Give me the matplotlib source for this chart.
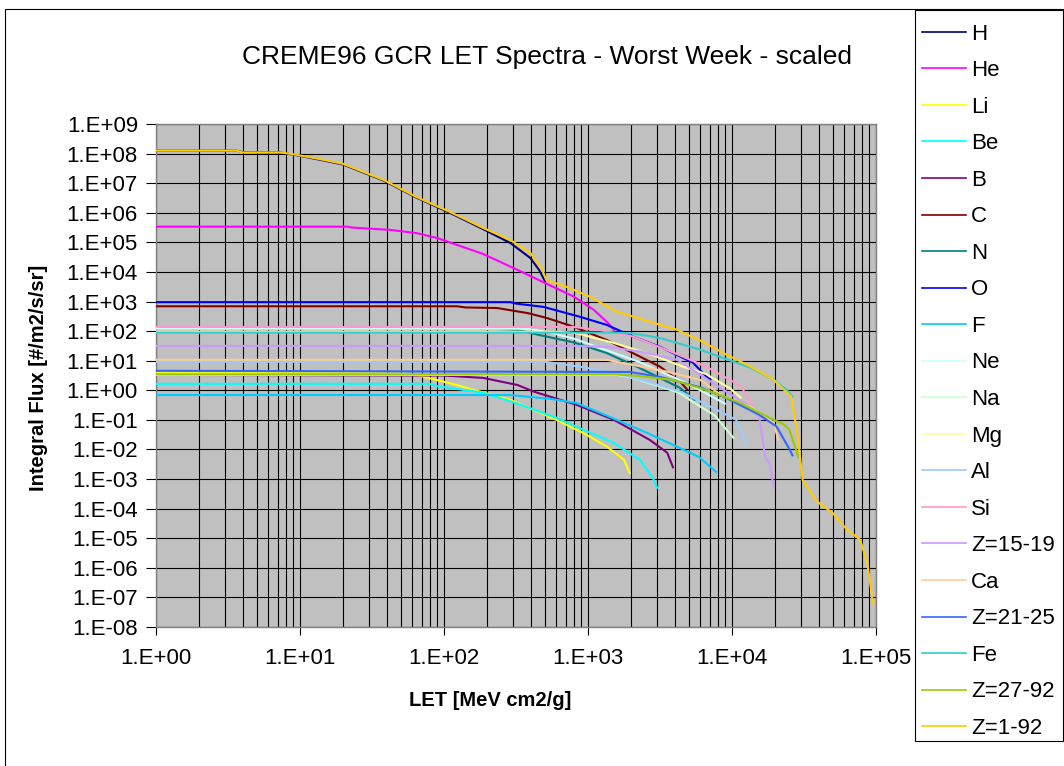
import numpy as np
import matplotlib
matplotlib.use("Agg")
from matplotlib import pyplot as plt
from matplotlib.lines import Line2D
from matplotlib.patches import Rectangle
from matplotlib.ticker import FixedLocator, FuncFormatter, LogLocator, NullLocator

plt.rcParams['font.family'] = ['Liberation Sans', 'DejaVu Sans']

W, H = 1064, 766

# legend names and the (Excel default) series colours, in drawing order
names = ["H", "He", "Li", "Be", "B", "C", "N", "O", "F", "Ne", "Na", "Mg",
         "Al", "Si", "Z=15-19", "Ca", "Z=21-25", "Fe", "Z=27-92", "Z=1-92"]
colors = ["#000080", "#FF00FF", "#FFFF00", "#00FFFF", "#800080", "#800000",
          "#008080", "#0000FF", "#00CCFF", "#CCFFFF", "#CCFFCC", "#FFFF99",
          "#99CCFF", "#FF99CC", "#CC99FF", "#FFCC99", "#3366FF", "#33CCCC",
          "#99CC00", "#FFCC00"]

# curves, as log10(LET) and log10(flux)
h_let = [0, 0.56, 0.60, 0.86, 0.95, 1.12, 1.30, 1.58, 1.81, 2.04, 2.27, 2.46, 2.60, 2.66, 2.70]
h_flux = [8.10, 8.10, 8.05, 8.04, 7.97, 7.81, 7.63, 7.09, 6.51, 6.00, 5.45, 4.98, 4.47, 4.07, 3.70]

he_let = [0, 1.33, 1.36, 1.63, 1.81, 1.95, 2.27, 2.51, 2.73, 2.90, 3.04, 3.14, 3.18]
he_flux = [5.53, 5.53, 5.50, 5.42, 5.31, 5.15, 4.61, 4.07, 3.56, 3.17, 2.72, 2.27, 2.04]

li_let = [0, 1.47, 1.74, 1.83, 2.04, 2.27, 2.46, 2.62, 2.78, 2.97, 3.13, 3.25, 3.29]
li_flux = [0.58, 0.58, 0.56, 0.49, 0.24, -0.07, -0.32, -0.66, -1.00, -1.45, -1.90, -2.35, -2.80]

be_let = [0, 1.90, 1.94, 2.27, 2.51, 2.78, 2.97, 3.18, 3.36, 3.45, 3.48]
be_flux = [0.22, 0.22, 0.15, -0.08, -0.45, -0.93, -1.34, -1.78, -2.35, -2.96, -3.30]

b_let = [0, 1.99, 2.27, 2.51, 2.62, 2.92, 3.18, 3.43, 3.55, 3.59]
b_flux = [0.52, 0.50, 0.42, 0.18, -0.04, -0.49, -1.00, -1.68, -2.11, -2.60]

c_let = [0, 2.09, 2.15, 2.37, 2.58, 2.71, 2.90, 3.13, 3.36, 3.50, 3.64, 3.69]
c_flux = [2.84, 2.84, 2.80, 2.78, 2.61, 2.45, 2.15, 1.70, 1.14, 0.80, 0.29, 0.02]

n_let = [0, 2.31, 2.51, 2.66, 2.90, 3.13, 3.36, 3.64, 3.74]
n_flux = [2.08, 2.08, 2.04, 1.87, 1.62, 1.26, 0.75, 0.08, -0.32]

o_let = [0, 2.46, 2.50, 2.69, 2.94, 3.13, 3.31, 3.50, 3.73, 3.81, 3.85]
o_flux = [2.98, 2.98, 2.93, 2.82, 2.49, 2.21, 1.82, 1.47, 0.93, 0.52, 0.35]

f_let = [0, 2.46, 2.74, 2.92, 3.20, 3.41, 3.62, 3.77, 3.89]
f_flux = [-0.16, -0.16, -0.29, -0.43, -1.00, -1.44, -1.91, -2.25, -2.76]

ne_let = [0, 2.58, 2.71, 2.90, 3.13, 3.36, 3.59, 3.80, 3.95]
ne_flux = [2.08, 2.08, 1.98, 1.75, 1.35, 0.95, 0.45, -0.05, -0.45]

na_let = [0, 3.20, 3.29, 3.50, 3.64, 3.73, 3.88, 4.01]
na_flux = [0.52, 0.52, 0.44, 0.13, -0.10, -0.40, -0.85, -1.61]

mg_let = [0, 2.80, 2.92, 3.18, 3.43, 3.66, 3.82, 3.99, 4.06]
mg_flux = [1.98, 1.98, 1.93, 1.60, 1.22, 0.80, 0.55, 0.05, -0.25]

al_let = [0, 2.71, 2.94, 3.18, 3.41, 3.64, 3.85, 4.03, 4.10]
al_flux = [0.96, 0.96, 0.80, 0.59, 0.29, -0.04, -0.55, -1.00, -1.84]

si_let = [0, 2.90, 3.08, 3.31, 3.59, 3.82, 4.06, 4.14]
si_flux = [2.14, 2.14, 2.04, 1.82, 1.28, 0.80, 0.15, -0.49]

z15_let = [0, 2.90, 3.13, 3.36, 3.62, 3.94, 4.13, 4.19, 4.23, 4.26, 4.29]
z15_flux = [1.50, 1.50, 1.47, 1.31, 1.03, 0.02, -0.56, -0.90, -2.25, -2.45, -3.27]

ca_let = [0, 3.13, 3.31, 3.55, 3.78, 3.94, 4.13, 4.29, 4.32]
ca_flux = [1.03, 1.03, 0.86, 0.63, 0.35, -0.22, -0.56, -1.10, -1.67]

z21_let = [0, 3.29, 3.50, 3.78, 3.96, 4.19, 4.31, 4.40, 4.42]
z21_flux = [0.66, 0.62, 0.45, 0.10, -0.26, -0.83, -1.23, -2.00, -2.20]

fe_let = [0, 3.18, 3.31, 3.50, 3.62, 3.78, 3.94, 4.13, 4.29, 4.38, 4.42]
fe_flux = [1.95, 1.95, 1.92, 1.77, 1.60, 1.37, 1.09, 0.76, 0.35, 0.01, -0.21]

z27_let = [0, 3.20, 3.36, 3.59, 3.82, 4.06, 4.19, 4.29, 4.36, 4.40, 4.46]
z27_flux = [0.54, 0.54, 0.48, 0.35, 0.01, -0.43, -0.76, -1.00, -1.15, -1.34, -2.25]

all_let = [0, 0.56, 0.60, 0.86, 0.95, 1.12, 1.30, 1.58, 1.81, 2.04, 2.27, 2.46, 2.60, 2.68,
           2.71, 2.85, 3.01, 3.20, 3.40, 3.62, 3.78, 3.94, 4.13, 4.29, 4.41, 4.45, 4.47,
           4.49, 4.59, 4.70, 4.80, 4.89, 4.94, 4.98]
all_flux = [8.10, 8.10, 8.04, 8.04, 7.98, 7.83, 7.65, 7.11, 6.53, 6.03, 5.49, 5.08, 4.64, 4.10,
            3.73, 3.50, 3.17, 2.66, 2.36, 2.04, 1.68, 1.26, 0.80, 0.35, -0.21, -1.34, -2.13,
            -3.03, -3.76, -4.15, -4.72, -5.05, -5.84, -7.25]

curves = [(h_let, h_flux), (he_let, he_flux), (li_let, li_flux), (be_let, be_flux),
          (b_let, b_flux), (c_let, c_flux), (n_let, n_flux), (o_let, o_flux),
          (f_let, f_flux), (ne_let, ne_flux), (na_let, na_flux), (mg_let, mg_flux),
          (al_let, al_flux), (si_let, si_flux), (z15_let, z15_flux), (ca_let, ca_flux),
          (z21_let, z21_flux), (fe_let, fe_flux), (z27_let, z27_flux), (all_let, all_flux)]

fig = plt.figure(figsize=(W / 100, H / 100), dpi=100)
ax = fig.add_axes([156 / W, 1 - 627 / H, 720 / W, 503 / H])
ax.set_facecolor("#C0C0C0")

for i, (lx, ly) in enumerate(curves):
    ax.plot(10 ** np.array(lx), 10 ** np.array(ly), color=colors[i], lw=1.5,
            zorder=3 + i * 0.01, solid_joinstyle="round")

ax.set_xscale("log")
ax.set_yscale("log")
ax.set_xlim(1, 1e5)
ax.set_ylim(1e-8, 1e9)

ax.yaxis.set_major_locator(FixedLocator(10.0 ** np.arange(-8, 10)))
ax.yaxis.set_minor_locator(NullLocator())
ax.xaxis.set_major_locator(FixedLocator(10.0 ** np.arange(0, 6)))
ax.xaxis.set_minor_locator(LogLocator(base=10, subs=np.arange(2, 10)))

fmt = FuncFormatter(lambda v, p: "1.E%+03d" % int(round(np.log10(v))))
ax.xaxis.set_major_formatter(fmt)
ax.yaxis.set_major_formatter(fmt)

ax.grid(which="major", color="black", lw=0.8)
ax.grid(which="minor", axis="x", color="black", lw=0.8)
ax.set_axisbelow(True)

ax.tick_params(axis="x", which="major", direction="out", length=6, width=0.8, pad=9, labelsize=16)
ax.tick_params(axis="x", which="minor", length=0)
ax.tick_params(axis="y", which="major", direction="out", length=7, width=0.8, pad=6, labelsize=16)
for sp in ax.spines.values():
    sp.set_color("#808080")
    sp.set_linewidth(1)

fig.text(547 / W, 1 - 57 / H, "CREME96 GCR LET Spectra - Worst Week - scaled",
         ha="center", va="center", fontsize=19)
fig.text(490 / W, 1 - 700 / H, "LET [MeV cm2/g]", ha="center", va="center",
         fontsize=14.5, fontweight="bold")
fig.text(39 / W, 1 - 378 / H, "Integral Flux [#/m2/s/sr]", ha="center", va="center",
         fontsize=14.5, fontweight="bold", rotation=90)

# outer chart border (runs off the right and bottom edges)
fig.patches.append(Rectangle((5 / W, -0.5), 2, 1 - 9 / H + 0.5, transform=fig.transFigure,
                             fill=False, edgecolor="black", lw=0.8))
# legend frame
fig.patches.append(Rectangle((915 / W, 1 - 741 / H), 148 / W, 731 / H, transform=fig.transFigure,
                             facecolor="white", edgecolor="black", lw=0.8))

handles = [Line2D([], [], color=c, lw=1.2) for c in colors]
fig.legend(handles, names, loc="upper left", bbox_to_anchor=(922 / W, 1 - 23.5 / H),
           frameon=False, fontsize=16, handlelength=1.98, handletextpad=0.23,
           labelspacing=0.70, borderpad=0, borderaxespad=0)

fig.savefig("out.png", dpi=100)
